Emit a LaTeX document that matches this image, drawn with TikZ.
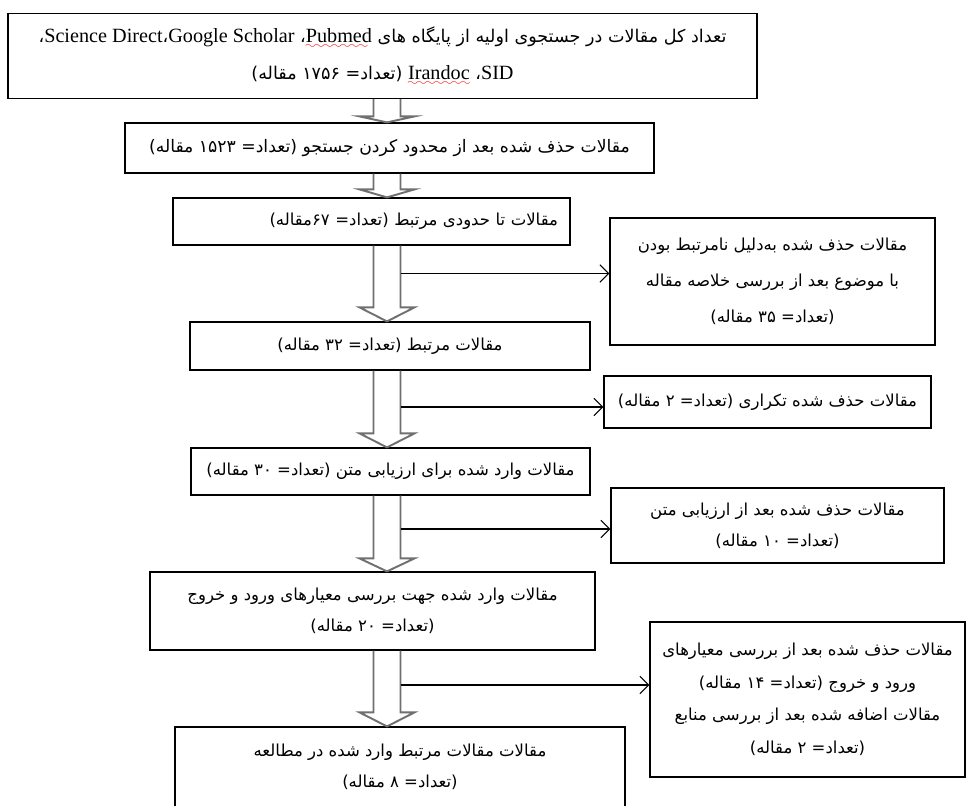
\documentclass[tikz,border=0pt]{standalone}
\usepackage{fontspec}
\usetikzlibrary{arrows.meta,calc}
\setmainfont{Liberation Serif}
\newfontfamily\persian[Script=Arabic]{DejaVu Sans}
\newfontfamily\latinfont{Liberation Serif}
\TeXXeTstate=1
\font\wavefont=lasy6
\definecolor{arrowgray}{RGB}{112,112,112}
\newcommand{\fatext}[1]{{\persian\beginR #1\endR}}
\newcommand{\lat}[1]{{\latinfont\fontsize{11.5}{18}\selectfont\beginL #1\endL}}
\newcommand{\spellwave}[1]{\setbox0\hbox{#1}\rlap{\lower3.5pt\hbox to \wd0{\color{red}\leaders\hbox{\wavefont\char58}\hfil}}#1}
% hollow arrow: from box, to box, head length
\newcommand{\bigarrow}[3]{%
	\draw[hollow] ($(#1 -| ax)+(-13.5,0)$) -- ($(#2 -| ax)+(-13.5,-#3)$) -- ($(#2 -| ax)+(-27.5,-#3)$) -- (#2 -| ax) -- ($(#2 -| ax)+(27.5,-#3)$) -- ($(#2 -| ax)+(13.5,-#3)$) -- ($(#1 -| ax)+(13.5,0)$);}
\tikzset{
	box/.style={draw, line width=0.7pt, inner sep=0pt, align=center, font=\fontsize{9.4}{17.5}\selectfont},
	hollow/.style={draw=arrowgray, line width=1.1pt, line join=miter},
	sidearrow/.style={line width=0.6pt, -{Straight Barb[length=5pt,width=10pt]}}
}
\begin{document}
\begin{tikzpicture}[x=0.02cm, y=-0.02cm]
				\clip (0,0) rectangle (974,805);
				\fill[white] (0,0) rectangle (974,805);
				
				% Main column
				\node[box, minimum width=14.98cm, minimum height=1.7cm, font=\fontsize{10}{18}\selectfont] (total) at (382.5,56)
					{\fatext{تعداد کل مقالات در جستجوی اولیه از پایگاه های \lat{\spellwave{Pubmed}}، \lat{Google Scholar}،\lat{Science Direct}،}\\[3pt]
					\fatext{\lat{SID}، \lat{\spellwave{Irandoc}} (تعداد= ۱۷۵۶ مقاله)}};
				\node[box, minimum width=10.58cm, minimum height=1cm, font=\fontsize{9.8}{18}\selectfont] (restricted) at (389.5,148)
					{\fatext{مقالات حذف شده بعد از محدود کردن جستجو (تعداد= ۱۵۲۳ مقاله)}};
				\node[box, minimum width=7.94cm, minimum height=0.94cm, text width=7.46cm, inner xsep=0.24cm, align=right] (partial) at (371.5,221.5)
					{\fatext{مقالات تا حدودی مرتبط (تعداد= ۶۷مقاله)}};
				\node[box, minimum width=8cm, minimum height=0.96cm] (related) at (390,346)
					{\fatext{مقالات مرتبط (تعداد= ۳۲ مقاله)}};
				\node[box, minimum width=7.98cm, minimum height=0.94cm] (fulltext) at (390.5,471.5)
					{\fatext{مقالات وارد شده برای ارزیابی متن (تعداد= ۳۰ مقاله)}};
				\node[box, minimum width=8.9cm, minimum height=1.56cm] (criteria) at (372.5,611)
					{\fatext{مقالات وارد شده جهت بررسی معیارهای ورود و خروج}\\
					\fatext{(تعداد= ۲۰ مقاله)}};
				\node[box, minimum width=9cm, minimum height=1.6cm] (final) at (400,767)
					{\fatext{مقالات مقالات مرتبط وارد شده در مطالعه}\\
					\fatext{(تعداد= ۸ مقاله)}};
				
				% Side boxes
				\node[box, minimum width=6.5cm, minimum height=2.54cm] (offtopic) at (772.5,281.5)
					{\fatext{مقالات حذف شده به^^^^200cدلیل نامرتبط بودن}\\[3pt]
					\fatext{با موضوع بعد از بررسی خلاصه مقاله}\\[3pt]
					\fatext{(تعداد= ۳۵ مقاله)}};
				\node[box, minimum width=6.54cm, minimum height=1.04cm] (duplicate) at (767.5,402)
					{\fatext{مقالات حذف شده تکراری (تعداد= ۲ مقاله)}};
				\node[box, minimum width=6.66cm, minimum height=1.5cm] (textcut) at (777.5,525.5)
					{\fatext{مقالات حذف شده بعد از ارزیابی متن}\\
					\fatext{(تعداد= ۱۰ مقاله)}};
				\node[box, minimum width=6.3cm, minimum height=3.1cm] (excluded) at (807.5,699.5)
					{\fatext{مقالات حذف شده بعد از بررسی معیارهای}\\[1pt]
					\fatext{ورود و خروج (تعداد= ۱۴ مقاله)}\\[1pt]
					\fatext{مقالات اضافه شده بعد از بررسی منابع}\\[1pt]
					\fatext{(تعداد= ۲ مقاله)}};
				
				% Hollow arrows down the column
				\coordinate (ax) at (387,0);
				\coordinate (sx) at (400.5,0);
				\bigarrow{total.south}{restricted.north}{6}
				\bigarrow{restricted.south}{partial.north}{8}
				\bigarrow{partial.south}{related.north}{14}
				\bigarrow{related.south}{fulltext.north}{14}
				\bigarrow{fulltext.south}{criteria.north}{13}
				\bigarrow{criteria.south}{final.north}{14}
				
				% Side arrows
				\coordinate (offtopic in) at ($(offtopic.west)+(0,-8)$);
				\coordinate (duplicate in) at ($(duplicate.west)+(0,5)$);
				\coordinate (textcut in) at ($(textcut.west)+(0,3.5)$);
				\coordinate (excluded in) at ($(excluded.west)+(0,-14.5)$);
				\draw[sidearrow] (offtopic in -| sx) -- (offtopic in);
				\draw[sidearrow] (duplicate in -| sx) -- (duplicate in);
				\draw[sidearrow] (textcut in -| sx) -- (textcut in);
				\draw[sidearrow] (excluded in -| sx) -- (excluded in);
			\end{tikzpicture}
\end{document}
